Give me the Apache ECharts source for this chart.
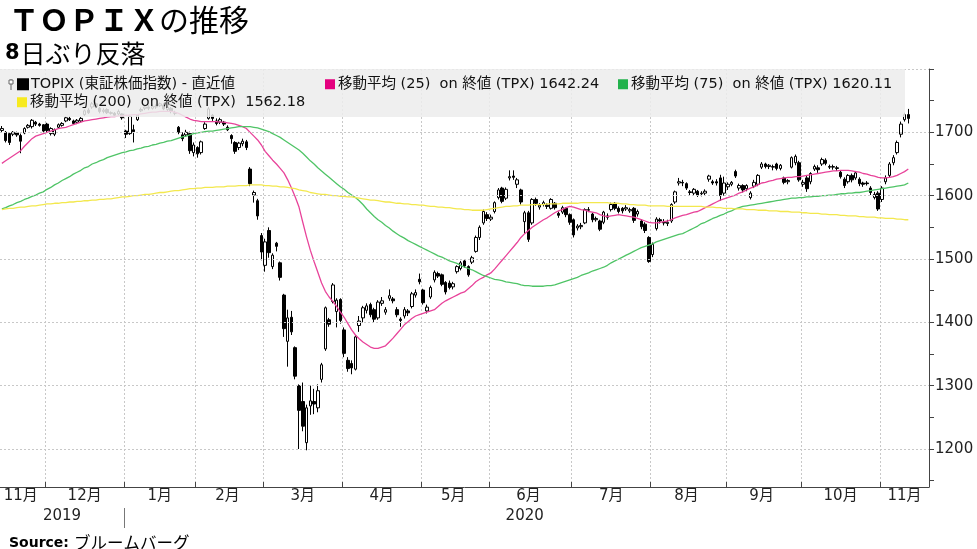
<!DOCTYPE html>
<html><head><meta charset="utf-8">
<script src="https://cdn.jsdelivr.net/npm/echarts@6/dist/echarts.min.js"></script>
<style>html,body{margin:0;padding:0;background:#fff}#c{width:977px;height:549px}</style>
</head><body><div id="c"></div>
<script>
// ---------- DATA ----------
const monthKeys = ['2019-11','2019-12','2020-01','2020-02','2020-03','2020-04','2020-05','2020-06','2020-07','2020-08','2020-09','2020-10','2020-11'];
const tradingDays = [
  [14,15,18,19,20,21,22,25,26,27,28,29],
  [2,3,4,5,6,9,10,11,12,13,16,17,18,19,20,23,24,25,26,27,30],
  [6,7,8,9,10,14,15,16,17,20,21,22,23,24,27,28,29,30,31],
  [3,4,5,6,7,10,12,13,14,17,18,19,20,21,25,26,27,28],
  [2,3,4,5,6,9,10,11,12,13,16,17,18,19,23,24,25,26,27,30,31],
  [1,2,3,6,7,8,9,10,13,14,15,16,17,20,21,22,23,24,27,28,30],
  [1,7,8,11,12,13,14,15,18,19,20,21,22,25,26,27,28,29],
  [1,2,3,4,5,8,9,10,11,12,15,16,17,18,19,22,23,24,25,26,29,30],
  [1,2,3,6,7,8,9,10,13,14,15,16,17,20,21,22,27,28,29,30,31],
  [3,4,5,6,7,11,12,13,14,17,18,19,20,21,24,25,26,27,28,31],
  [1,2,3,4,7,8,9,10,11,14,15,16,17,18,23,24,25,28,29,30],
  [2,5,6,7,8,9,12,13,14,15,16,19,20,21,22,23,26,27,28,29,30],
  [2,4,5,6,9,10,11,12,13,16,17,18,19]
];
// TOPIX daily [open, close, low, high]
const ohlc = [
  [1703,1706,1700,1710],[1700,1687,1684,1702],[1698,1684,1680,1700],[1697,1700,1694,1702],[1699,1696,1693,1701],
  [1695,1686,1667,1698],[1699,1706,1697,1708],[1708,1711,1706,1713],[1709,1719,1706,1721],[1716,1713,1710,1718],
  [1713,1711,1709,1715],[1712,1702,1700,1713],
  [1713,1703,1700,1715],[1698,1706,1695,1708],[1697,1704,1694,1706],[1708,1712,1706,1714],[1711,1714,1709,1716],
  [1718,1723,1716,1725],[1722,1720,1718,1725],[1718,1714,1712,1720],[1716,1719,1713,1721],[1718,1722,1716,1724],
  [1728,1734,1726,1736],[1735,1731,1729,1738],[1740,1745,1737,1748],[1745,1741,1738,1747],[1738,1733,1730,1740],
  [1733,1735,1730,1738],[1736,1731,1729,1738],[1730,1731,1728,1733],[1730,1727,1725,1732],[1729,1733,1727,1736],
  [1729,1723,1720,1730],
  [1702,1697,1691,1704],[1698,1725,1696,1728],[1704,1701,1684,1712],[1720,1727,1718,1729],[1734,1736,1732,1739],
  [1738,1740,1735,1742],[1740,1738,1735,1743],[1738,1741,1736,1744],[1741,1740,1737,1744],[1742,1745,1740,1747],
  [1743,1737,1735,1746],[1736,1740,1733,1742],[1738,1733,1730,1740],[1730,1731,1727,1734],[1708,1700,1697,1710],
  [1696,1690,1686,1700],[1696,1700,1693,1704],[1698,1671,1666,1701],[1668,1680,1662,1684],
  [1676,1666,1660,1678],[1668,1685,1665,1687],[1706,1713,1704,1716],[1722,1737,1720,1740],[1727,1722,1718,1729],
  [1718,1714,1711,1722],[1716,1720,1713,1723],[1716,1713,1710,1718],[1708,1704,1702,1711],[1695,1690,1682,1697],
  [1684,1670,1666,1686],[1676,1683,1672,1685],[1682,1686,1678,1690],[1685,1676,1672,1688],[1642,1619,1615,1645],
  [1601,1605,1589,1608],[1592,1568,1562,1595],[1537,1511,1498,1541],
  [1490,1527,1480,1532],[1545,1510,1502,1550],[1488,1506,1484,1509],[1525,1520,1512,1527],[1494,1471,1466,1496],
  [1443,1390,1377,1445],[1370,1407,1330,1420],[1408,1385,1380,1418],[1360,1315,1310,1362],[1300,1261,1200,1302],
  [1275,1236,1228,1305],[1210,1265,1198,1270],[1268,1276,1254,1300],[1275,1271,1255,1295],[1265,1292,1258,1302],
  [1310,1333,1305,1336],[1358,1423,1355,1425],[1404,1397,1393,1407],[1433,1459,1430,1462],[1417,1435,1392,1438],
  [1436,1403,1398,1438],
  [1388,1351,1345,1392],[1340,1327,1322,1345],[1335,1328,1318,1340],[1326,1377,1324,1380],[1395,1402,1385,1410],
  [1407,1423,1400,1426],[1419,1426,1414,1430],[1428,1412,1408,1431],[1420,1405,1400,1423],[1407,1432,1404,1435],
  [1430,1434,1426,1440],[1416,1420,1412,1424],[1438,1442,1434,1452],[1437,1434,1430,1440],[1420,1412,1408,1424],
  [1405,1403,1393,1408],[1410,1420,1406,1424],[1418,1415,1410,1421],[1425,1445,1422,1448],[1443,1447,1439,1452],
  [1468,1464,1460,1477],
  [1451,1431,1428,1453],[1418,1424,1414,1428],[1440,1455,1437,1458],[1467,1479,1463,1482],[1477,1473,1470,1480],
  [1475,1460,1457,1477],[1463,1448,1444,1465],[1462,1455,1452,1466],[1456,1461,1452,1464],[1480,1488,1477,1490],
  [1485,1494,1482,1497],[1497,1489,1486,1500],[1488,1475,1472,1490],[1495,1502,1492,1505],[1512,1534,1510,1537],
  [1534,1550,1530,1553],[1557,1575,1554,1578],[1570,1564,1560,1574],
  [1563,1566,1560,1570],[1575,1589,1572,1591],[1597,1609,1594,1612],[1612,1591,1588,1614],[1596,1610,1593,1613],
  [1628,1630,1624,1640],[1631,1629,1625,1640],[1618,1625,1612,1628],[1609,1590,1586,1611],[1559,1573,1540,1576],
  [1573,1531,1527,1576],[1557,1594,1554,1596],[1594,1588,1584,1597],[1582,1585,1578,1588],[1586,1589,1583,1592],
  [1585,1583,1579,1588],[1580,1594,1578,1596],[1588,1581,1578,1590],[1572,1569,1565,1575],[1574,1581,1571,1584],
  [1580,1570,1566,1582],[1570,1558,1554,1572],
  [1562,1538,1534,1564],[1549,1552,1545,1555],[1551,1553,1547,1557],[1557,1578,1555,1580],[1577,1578,1574,1582],
  [1571,1562,1558,1573],[1562,1564,1559,1567],[1560,1547,1544,1562],[1558,1574,1555,1576],[1568,1566,1562,1572],
  [1578,1586,1575,1589],[1588,1580,1577,1590],[1580,1575,1572,1583],[1580,1576,1572,1582],[1579,1581,1576,1585],
  [1576,1578,1573,1581],[1580,1561,1557,1582],[1571,1575,1567,1578],[1560,1551,1547,1563],[1555,1545,1541,1558],
  [1534,1496,1494,1536],
  [1507,1523,1503,1526],[1548,1563,1545,1566],[1562,1560,1556,1565],[1558,1557,1553,1563],[1556,1558,1552,1562],
  [1560,1586,1557,1588],[1590,1606,1587,1608],[1620,1622,1616,1628],[1621,1620,1615,1625],[1619,1612,1609,1621],
  [1606,1605,1601,1609],[1604,1610,1601,1612],[1607,1601,1598,1609],[1603,1604,1599,1607],[1604,1607,1601,1610],
  [1626,1631,1622,1633],[1622,1620,1617,1625],[1622,1620,1616,1626],[1628,1600,1592,1633],[1604,1620,1600,1630],
  [1614,1618,1609,1621],[1618,1621,1615,1623],[1638,1631,1628,1641],[1612,1616,1608,1619],[1616,1609,1605,1618],
  [1611,1616,1607,1618],[1597,1604,1594,1607],[1615,1621,1612,1625],[1618,1632,1615,1634],[1645,1650,1642,1653],
  [1650,1646,1643,1652],[1646,1648,1642,1650],[1645,1646,1640,1649],[1650,1643,1640,1652],[1643,1648,1640,1650],
  [1628,1621,1618,1630],[1622,1624,1618,1626],[1645,1660,1643,1662],[1652,1662,1648,1665],[1652,1625,1622,1655],
  [1618,1621,1614,1625],[1628,1611,1606,1631],[1622,1635,1618,1637],[1642,1646,1639,1649],[1644,1641,1636,1648],
  [1650,1657,1647,1660],[1656,1651,1648,1659],[1646,1645,1642,1649],[1645,1646,1641,1649],[1644,1643,1639,1647],
  [1637,1630,1627,1640],[1626,1616,1612,1629],[1622,1632,1619,1634],[1632,1625,1621,1635],[1628,1636,1625,1639],
  [1626,1619,1615,1629],[1620,1618,1614,1622],[1620,1619,1616,1623],[1612,1605,1601,1615],[1597,1602,1594,1606],
  [1604,1579,1576,1607],
  [1594,1612,1590,1615],[1622,1628,1618,1632],[1632,1650,1628,1653],[1652,1660,1648,1664],[1668,1684,1665,1687],
  [1697,1713,1692,1717],[1720,1728,1717,1731],[1728,1722,1714,1737]
];
const ma25 = [
  1651,1655,1659,1663,1667,1671,1678,1684,1690,1694, 1696,1698,1700,1702,1704,1706,1707,1708,1710,1712,
  1714,1716,1718,1719,1720,1721,1722,1723,1724,1725, 1725,1726,1726,1727,1727,1728,1728,1729,1730,1731,
  1732,1732,1733,1733,1733,1733,1732,1730,1727,1724, 1721,1719,1718,1717,1717,1717,1717,1717,1716,1716,
  1715,1714,1713,1711,1709,1706,1700,1694,1688,1680, 1670,1663,1656,1650,1643,1636,1625,1612,1598,1582,
  1558,1535,1514,1496,1479,1462,1449,1440,1433,1425, 1416,1408,1398,1388,1380,1374,1369,1365,1361,1359,
  1359,1361,1363,1369,1375,1382,1389,1396,1401,1406, 1410,1412,1414,1416,1418,1420,1425,1430,1434,1437,
  1440,1443,1446,1448,1453,1458,1464,1468,1471,1475, 1478,1484,1491,1498,1505,1512,1519,1526,1534,1540,
  1545,1550,1554,1558,1562,1565,1569,1573,1576,1578, 1581,1583,1582,1580,1578,1577,1575,1574,1573,1570,
  1568,1567,1568,1569,1570,1569,1568,1567,1566,1564, 1562,1560,1558,1557,1557,1558,1559,1560,1562,1565,
  1567,1569,1570,1572,1574,1575,1578,1581,1584,1587, 1590,1593,1595,1597,1599,1601,1604,1606,1609,1612,
  1614,1617,1620,1621,1623,1624,1626,1627,1628,1629, 1629,1630,1630,1631,1632,1633,1634,1635,1636,1637,
  1638,1639,1639,1640,1640,1640,1639,1638,1637,1635, 1634,1632,1631,1629,1628,1628,1629,1630,1632,1635,
  1638,1642
];
const ma75 = [
  1579,1581,1584,1586,1589,1591,1594,1596,1599,1601, 1604,1606,1610,1613,1617,1620,1624,1627,1630,1634,
  1637,1640,1644,1646,1650,1652,1655,1657,1660,1662, 1664,1666,1668,1669,1671,1672,1674,1675,1677,1678,
  1680,1681,1683,1684,1686,1687,1689,1691,1693,1694, 1696,1698,1699,1700,1701,1702,1702,1703,1704,1705,
  1706,1707,1708,1709,1709,1709,1709,1708,1707,1705, 1703,1701,1698,1695,1692,1688,1684,1680,1676,1672,
  1667,1661,1655,1650,1644,1639,1634,1629,1624,1619, 1614,1610,1605,1601,1597,1592,1586,1579,1573,1567,
  1562,1558,1553,1549,1544,1540,1536,1533,1529,1526, 1523,1520,1517,1514,1511,1508,1505,1503,1500,1497,
  1495,1493,1490,1487,1485,1483,1480,1477,1474,1472, 1470,1468,1467,1466,1464,1463,1462,1461,1459,1458,
  1458,1457,1457,1457,1457,1458,1458,1459,1461,1463, 1465,1467,1469,1471,1474,1476,1478,1481,1483,1485,
  1487,1490,1494,1497,1500,1503,1506,1509,1512,1515, 1518,1520,1522,1524,1527,1529,1531,1533,1535,1537,
  1539,1540,1543,1546,1549,1552,1556,1558,1561,1564, 1566,1569,1571,1574,1576,1579,1581,1583,1584,1585,
  1586,1587,1588,1589,1590,1591,1592,1593,1594,1595, 1596,1596,1597,1597,1598,1598,1599,1599,1600,1600,
  1601,1601,1602,1603,1603,1604,1604,1605,1605,1606, 1607,1608,1609,1610,1611,1612,1613,1614,1615,1616,
  1617,1620
];
const ma200 = [
  1578,1579,1580,1580,1581,1582,1582,1583,1584,1584,1585,1586,
  1587,1587,1588,1588,1589,1589,1590,1590,1591,1591,1592,1592,1593,1593,1594,1594,1595,1595,1596,1597,1598,
  1598,1599,1600,1600,1601,1602,1602,1603,1604,1605,1605,1606,1607,1608,1608,1609,1610,1611,1611,1612,
  1612,1613,1613,1613,1614,1614,1614,1615,1615,1615,1616,1616,1616,1617,1617,1617,
  1617,1616,1616,1615,1615,1614,1614,1613,1612,1611,1609,1608,1607,1605,1604,
  1603,1602,1602,1601,1600,1600,1599,1599,1598,1598,1597,1596,
  1595,1594,1593,1593,1592,1591,1590,1590,1589,
  1588,1588,1587,1587,1586,1586,1585,1585,1584,
  1583,1583,1582,1582,1581,1581,1580,1579,1579,
  1578,1578,1577,1577,1577,1577,
  1578,1579,1580,1581,1582,1583,1583,1584,1584,1585,1585,1585,
  1586,1586,1586,1586,1587,1587,1587,1587,1588,1588,1588,1588,1588,1589,1589,1589,1589,1589,1589,1589,
  1589,1588,1588,1588,1587,1587,1586,1586,1585,1585,1585,1584,
  1584,1584,1584,1584,1583,1583,1583,1583,1583,1583,1583,1583,1583,1583,
  1582,1582,1582,1581,1581,1580,1580,1580,1579,1579,1579,1578,1578,1578,
  1577,1577,1577,1576,1576,1576,1575,1575,1575,1574,1574,1574,1573,1573,
  1572,1572,1572,1571,1571,1570,1570,1570,1569,1569,1568,1568,1568,1567,
  1567,1566,1566,1566,1565,1565,1564,1564,1564,1563,1563,1562,1562
];
const yLabelValues = [1200,1300,1400,1500,1600,1700];
const yTickValues = [1150,1200,1250,1300,1350,1400,1450,1500,1550,1600,1650,1700,1750,1800];
const yGridValues = [1200,1300,1400,1500,1600,1700,1800];
const seriesNames = [
  'TOPIX (東証株価指数) - 直近値',
  '移動平均 (25)  on 終値 (TPX) 1642.24',
  '移動平均 (75)  on 終値 (TPX) 1620.11',
  '移動平均 (200)  on 終値 (TPX)  1562.18'
];

// ---------- BUILD ----------
const categories = [], monthStart = [], monthMid = [];
monthKeys.forEach((m, k) => {
  monthStart.push(categories.length);
  monthMid.push(categories.length + Math.floor((tradingDays[k].length - 1) / 2));
  tradingDays[k].forEach(d => categories.push(m + '-' + String(d).padStart(2, '0')));
});
const yearFirst = {}, yearLast = {};
categories.forEach((c, i) => { const y = c.slice(0, 4); if (!(y in yearFirst)) yearFirst[y] = i; yearLast[y] = i; });
const yearMid = Object.keys(yearFirst).map(y => Math.floor((yearFirst[y] + yearLast[y]) / 2));
const yearStart = Object.keys(yearFirst).map(y => yearFirst[y]).filter(i => i > 0);

const FONT = '"DejaVu Sans", "Noto Sans CJK JP", sans-serif';
const CJK = '"Noto Sans CJK JP", sans-serif';
const monthTick = i => monthStart.includes(i) && i > 0;

const chart = echarts.init(document.getElementById('c'), null, {renderer: 'canvas'});
const legendBase = {orient: 'horizontal', icon: 'rect', itemWidth: 10, itemHeight: 10, itemGap: 0, padding: 0,
  selectedMode: false, z: 20, textStyle: {fontSize: 14.5, color: '#111', fontFamily: FONT, padding: [0, 0, 0, -2]}};
const sColors = ['#000000', '#e4007f', '#22b24c', '#f7ea1f'];
const baseGraphic = [
  {id: 'box', type: 'rect', z: 10, silent: true, shape: {x: 0, y: 69, width: 905, height: 48}, style: {fill: 'rgba(236,236,236,0.86)'}},
  {id: 'ic1', type: 'line', z: 11, silent: true, shape: {x1: 11, y1: 79, x2: 11, y2: 90}, style: {stroke: '#666', lineWidth: 1}},
  {id: 'ic2', type: 'rect', z: 12, silent: true, shape: {x: 9, y: 80, width: 4, height: 4}, style: {fill: '#fff', stroke: '#666', lineWidth: 1}}
];
chart.setOption({
  animation: false,
  backgroundColor: '#ffffff',
  title: [
    {left: 4, top: 0, text: '{b|ＴＯＰＩＸ}{n|の推移}',
      textStyle: {rich: {b: {fontSize: 30, fontWeight: 'bold', fontFamily: CJK, color: '#000'},
                         n: {fontSize: 30, fontWeight: 'normal', fontFamily: CJK, color: '#000'}}}},
    {left: 0, top: 36, text: '{b|8}{n|日ぶり反落}',
      textStyle: {rich: {b: {fontSize: 21, fontWeight: 'bold', fontFamily: FONT, color: '#000'},
                         n: {fontSize: 25, fontWeight: 'normal', fontFamily: CJK, color: '#000', padding: [0, 0, 0, 1]}}}},
    {left: 4, top: 529, text: '{b|Source:} {n|ブルームバーグ}',
      textStyle: {rich: {b: {fontSize: 14, fontWeight: 'bold', fontFamily: FONT, color: '#000'},
                         n: {fontSize: 16.5, fontWeight: 'normal', fontFamily: CJK, color: '#000'}}}}
  ],
  legend: [
    Object.assign({}, legendBase, {left: 17, top: 77, data: [{name: seriesNames[0], itemStyle: {color: sColors[0]}}]}),
    Object.assign({}, legendBase, {left: 325, top: 77, data: [{name: seriesNames[1], itemStyle: {color: sColors[1]}}]}),
    Object.assign({}, legendBase, {left: 618, top: 77, data: [{name: seriesNames[2], itemStyle: {color: sColors[2]}}]}),
    Object.assign({}, legendBase, {left: 17, top: 95, data: [{name: seriesNames[3], itemStyle: {color: sColors[3]}}]})
  ],
  graphic: baseGraphic,
  grid: {left: 0, right: 48, top: 69, bottom: 62, containLabel: false},
  xAxis: [
    {type: 'category', data: categories, boundaryGap: true,
      axisLine: {show: true, lineStyle: {color: '#444', width: 1}},
      axisTick: {show: true, inside: true, length: 5, interval: monthTick, lineStyle: {color: '#444'}},
      axisLabel: {interval: i => monthMid.includes(i), formatter: v => parseInt(v.slice(5, 7), 10) + '月',
        fontSize: 15, color: '#222', margin: 2, fontFamily: FONT},
      splitLine: {show: true, interval: monthTick, lineStyle: {type: [2, 2], color: '#c8c8c8', width: 1}}},
    {type: 'category', data: categories, boundaryGap: true, position: 'bottom', offset: 20,
      axisLine: {show: false},
      axisTick: {show: false},
      axisLabel: {interval: i => yearMid.includes(i), formatter: v => v.slice(0, 4),
        fontSize: 15, color: '#222', margin: 2, fontFamily: FONT},
      splitLine: {show: false}}
  ],
  yAxis: {type: 'value', position: 'right', min: 1140, max: 1800, scale: true,
    axisLine: {show: true, lineStyle: {color: '#444', width: 1}},
    axisTick: {show: true, inside: false, length: 5, customValues: yTickValues, lineStyle: {color: '#444'}},
    axisLabel: {customValues: yLabelValues, formatter: v => String(v), fontSize: 15, color: '#222', margin: 6, fontFamily: FONT},
    splitLine: {show: false}},
  series: [
    {type: 'line', name: '_grid', data: [], z: 0, silent: true,
      markLine: {silent: true, symbol: 'none', label: {show: false},
        lineStyle: {type: [2, 2], color: '#c8c8c8', width: 1},
        data: yGridValues.map(v => ({yAxis: v}))}},
    {type: 'candlestick', name: seriesNames[0], data: ohlc, barWidth: 3, z: 2,
      itemStyle: {color: '#ffffff', color0: '#000000', borderColor: '#000000', borderColor0: '#000000', borderWidth: 1}},
    {type: 'line', name: seriesNames[1], data: ma25, symbol: 'none', z: 3,
      itemStyle: {color: sColors[1]}, lineStyle: {color: '#e8439a', width: 1.3}},
    {type: 'line', name: seriesNames[2], data: ma75, symbol: 'none', z: 3,
      itemStyle: {color: sColors[2]}, lineStyle: {color: '#4fc466', width: 1.3}},
    {type: 'line', name: seriesNames[3], data: ma200, symbol: 'none', z: 3,
      itemStyle: {color: sColors[3]}, lineStyle: {color: '#f3e84e', width: 1.3}}
  ]
});
// year separator at the first trading day of each new year, placed through the axis scale
const p0 = chart.convertToPixel({xAxisIndex: 0}, categories[0]);
const p1 = chart.convertToPixel({xAxisIndex: 0}, categories[1]);
const band = p1 - p0;
const sepLines = yearStart.map((idx, k) => {
  const x = Math.round(chart.convertToPixel({xAxisIndex: 0}, categories[idx]) - band / 2) + 0.5;
  return {id: 'sep' + k, type: 'line', silent: true, z: 5, shape: {x1: x, y1: 508, x2: x, y2: 528}, style: {stroke: '#777', lineWidth: 1}};
});
chart.setOption({graphic: baseGraphic.concat(sepLines)});
</script></body></html>
